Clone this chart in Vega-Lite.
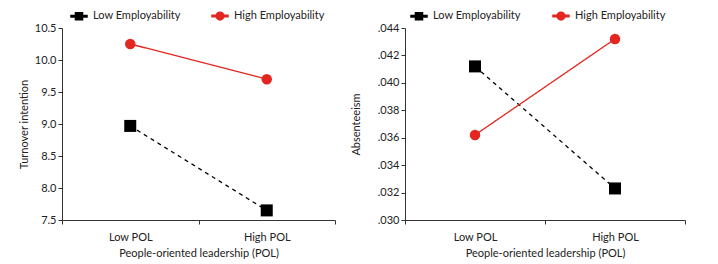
{
  "$schema": "https://vega.github.io/schema/vega-lite/v6.json",
  "padding": {"left": 18, "top": 7, "right": 5, "bottom": 5},
  "background": "white",
  "datasets": {
    "turnover": [
      {"pol": "Low POL", "group": "Low Employability", "value": 8.97},
      {"pol": "High POL", "group": "Low Employability", "value": 7.65},
      {"pol": "Low POL", "group": "High Employability", "value": 10.25},
      {"pol": "High POL", "group": "High Employability", "value": 9.70}
    ],
    "absent": [
      {"pol": "Low POL", "group": "Low Employability", "value": 0.0412},
      {"pol": "High POL", "group": "Low Employability", "value": 0.0323},
      {"pol": "Low POL", "group": "High Employability", "value": 0.0362},
      {"pol": "High POL", "group": "High Employability", "value": 0.0432}
    ]
  },
  "config": {
    "font": "Lato",
    "view": {"stroke": null},
    "axis": {
      "grid": false,
      "domainColor": "#333333",
      "tickColor": "#333333",
      "labelColor": "#222222",
      "titleColor": "#222222",
      "labelFont": "Lato",
      "titleFont": "Lato",
      "labelFontSize": 11,
      "titleFontSize": 11,
      "titleFontWeight": "normal",
      "tickSize": 4
    },
    "legend": {"labelFont": "Lato", "labelFontSize": 11, "labelColor": "#222222"},
    "concat": {"spacing": 14}
  },
  "resolve": {
    "scale": {"y": "independent", "x": "independent"},
    "legend": {"color": "independent"}
  },
  "hconcat": [
    {
      "width": 273,
      "height": 192,
      "data": {"name": "turnover"},
      "encoding": {
        "x": {
          "field": "pol", "type": "nominal", "sort": ["Low POL", "High POL"],
          "scale": {"paddingInner": 0, "paddingOuter": 0},
          "axis": {"title": "People-oriented leadership (POL)", "labelAngle": 0, "tickBand": "extent", "labelPadding": 7, "titlePadding": 5}
        },
        "y": {
          "field": "value", "type": "quantitative",
          "scale": {"domain": [7.5, 10.5], "zero": false, "nice": false},
          "axis": {"title": "Turnover intention", "values": [7.5, 8, 8.5, 9, 9.5, 10, 10.5], "format": ".1f", "titlePadding": 5}
        },
        "color": {
          "field": "group", "type": "nominal",
          "scale": {"domain": ["Low Employability", "High Employability"], "range": ["#000000", "#e3261f"]},
          "legend": {
            "title": null, "orient": "none", "direction": "horizontal", "legendX": 8, "legendY": -21,
            "columnPadding": 28, "labelOffset": 5, "symbolSize": 256,
            "encode": {
              "symbols": {"update": {
                "shape": {"signal": "datum.value === 'Low Employability' ? 'M-1,-0.09H-0.44V0.09H-1Z M0.44,-0.09H1V0.09H0.44Z M-0.44,-0.44H0.44V0.44H-0.44Z' : 'M-1,-0.09H-0.46V0.09H-1Z M0.46,-0.09H1V0.09H0.46Z M0.48,0A0.48,0.48,0,1,1,-0.48,0A0.48,0.48,0,1,1,0.48,0Z'"}
              }}
            }
          }
        }
      },
      "layer": [
        {
          "mark": {"type": "line", "strokeWidth": 1.3},
          "encoding": {
            "strokeDash": {"condition": {"test": "datum.group === 'Low Employability'", "value": [4, 4]}, "value": [1, 0]}
          }
        },
        {
          "transform": [{"filter": "datum.group === 'Low Employability'"}],
          "mark": {"type": "point", "filled": true, "opacity": 1, "shape": "square", "size": 144}
        },
        {
          "transform": [{"filter": "datum.group === 'High Employability'"}],
          "mark": {"type": "point", "filled": true, "opacity": 1, "shape": "circle", "size": 110}
        }
      ]
    },
    {
      "width": 280,
      "height": 192,
      "data": {"name": "absent"},
      "encoding": {
        "x": {
          "field": "pol", "type": "nominal", "sort": ["Low POL", "High POL"],
          "scale": {"paddingInner": 0, "paddingOuter": 0},
          "axis": {"title": "People-oriented leadership (POL)", "labelAngle": 0, "tickBand": "extent", "labelPadding": 7, "titlePadding": 5}
        },
        "y": {
          "field": "value", "type": "quantitative",
          "scale": {"domain": [0.030, 0.044], "zero": false, "nice": false},
          "axis": {"title": "Absenteeism", "values": [0.030, 0.032, 0.034, 0.036, 0.038, 0.040, 0.042, 0.044], "labelExpr": "substring(format(datum.value, '.3f'), 1)", "titlePadding": 16}
        },
        "color": {
          "field": "group", "type": "nominal",
          "scale": {"domain": ["Low Employability", "High Employability"], "range": ["#000000", "#e3261f"]},
          "legend": {
            "title": null, "orient": "none", "direction": "horizontal", "legendX": 5, "legendY": -21,
            "columnPadding": 29, "labelOffset": 5, "symbolSize": 256,
            "encode": {
              "symbols": {"update": {
                "shape": {"signal": "datum.value === 'Low Employability' ? 'M-1,-0.09H-0.44V0.09H-1Z M0.44,-0.09H1V0.09H0.44Z M-0.44,-0.44H0.44V0.44H-0.44Z' : 'M-1,-0.09H-0.46V0.09H-1Z M0.46,-0.09H1V0.09H0.46Z M0.48,0A0.48,0.48,0,1,1,-0.48,0A0.48,0.48,0,1,1,0.48,0Z'"}
              }}
            }
          }
        }
      },
      "layer": [
        {
          "mark": {"type": "line", "strokeWidth": 1.3},
          "encoding": {
            "strokeDash": {"condition": {"test": "datum.group === 'Low Employability'", "value": [4, 4]}, "value": [1, 0]}
          }
        },
        {
          "transform": [{"filter": "datum.group === 'Low Employability'"}],
          "mark": {"type": "point", "filled": true, "opacity": 1, "shape": "square", "size": 144}
        },
        {
          "transform": [{"filter": "datum.group === 'High Employability'"}],
          "mark": {"type": "point", "filled": true, "opacity": 1, "shape": "circle", "size": 110}
        }
      ]
    }
  ]
}
